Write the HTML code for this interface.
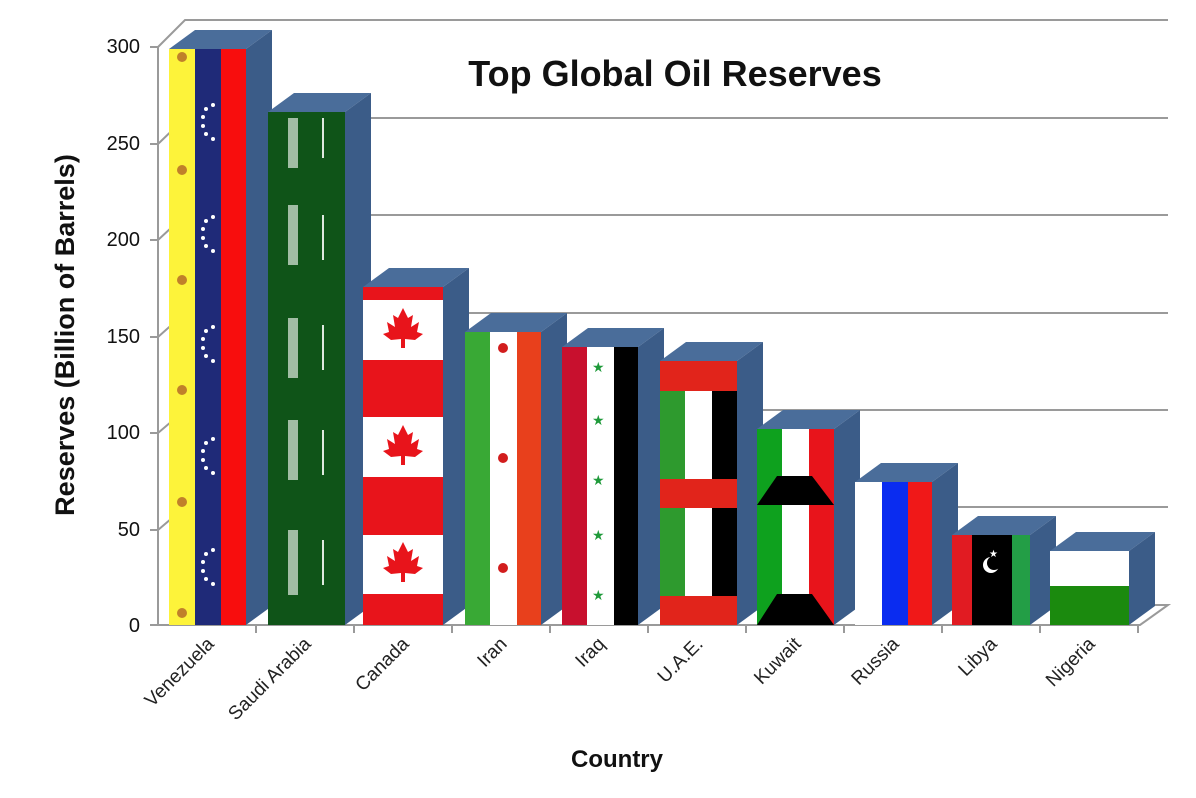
<!DOCTYPE html>
<html><head><style>body{margin:0;background:#fff}svg{display:block}text{font-family:"Liberation Sans",sans-serif}</style></head><body>
<svg width="1196" height="798" viewBox="0 0 1196 798" xmlns="http://www.w3.org/2000/svg">
<defs>
<g id="leaf"><path d="M0,-22 L5,-12 L10,-15 L8,-3 L16,-8 L14,2 L20,4 L12,10 L2,9 L2,18 L-2,18 L-2,9 L-12,10 L-20,4 L-14,2 L-16,-8 L-8,-3 L-10,-15 L-5,-12 Z" fill="#e8141b"/></g>
<g id="arc" fill="#fff"><circle cx="0" cy="-18" r="2"/><circle cx="-7" cy="-14" r="2"/><circle cx="-10" cy="-6" r="2"/><circle cx="-10" cy="3" r="2"/><circle cx="-7" cy="11" r="2"/><circle cx="0" cy="16" r="2"/></g>
</defs>
<!-- back wall gridlines -->
<g stroke="#9a9a9a" stroke-width="2" fill="none">
<path d="M158,47 L185,20 L1168,20"/>
<path d="M158,144 L185,118 L1168,118"/>
<path d="M158,240 L185,215 L1168,215"/>
<path d="M158,337 L185,313 L1168,313"/>
<path d="M158,433 L185,410 L1168,410"/>
<path d="M158,530 L185,507 L1168,507"/>
<path d="M158,47 L158,625"/>
<path d="M150,625 L1140,625 L1168,605 L185,605"/>
</g>
<g stroke="#9a9a9a" stroke-width="2">
<line x1="150" y1="47" x2="158" y2="47"/><line x1="150" y1="144" x2="158" y2="144"/><line x1="150" y1="240" x2="158" y2="240"/><line x1="150" y1="337" x2="158" y2="337"/><line x1="150" y1="433" x2="158" y2="433"/><line x1="150" y1="530" x2="158" y2="530"/>
<line x1="256" y1="625" x2="256" y2="633"/><line x1="354" y1="625" x2="354" y2="633"/><line x1="452" y1="625" x2="452" y2="633"/><line x1="550" y1="625" x2="550" y2="633"/><line x1="648" y1="625" x2="648" y2="633"/><line x1="746" y1="625" x2="746" y2="633"/><line x1="844" y1="625" x2="844" y2="633"/><line x1="942" y1="625" x2="942" y2="633"/><line x1="1040" y1="625" x2="1040" y2="633"/><line x1="1138" y1="625" x2="1138" y2="633"/>
</g>
<!-- bar 3D sides/tops -->
<g>
<path d="M169,49 L195,30 L272,30 L246,49Z" fill="#4a6d9a"/><path d="M246,49 L272,30 L272,606 L246,625Z" fill="#3b5c88"/>
<path d="M268,112 L294,93 L371,93 L345,112Z" fill="#4a6d9a"/><path d="M345,112 L371,93 L371,606 L345,625Z" fill="#3b5c88"/>
<path d="M363,287 L389,268 L469,268 L443,287Z" fill="#4a6d9a"/><path d="M443,287 L469,268 L469,606 L443,625Z" fill="#3b5c88"/>
<path d="M465,332 L491,313 L567,313 L541,332Z" fill="#4a6d9a"/><path d="M541,332 L567,313 L567,606 L541,625Z" fill="#3b5c88"/>
<path d="M562,347 L588,328 L664,328 L638,347Z" fill="#4a6d9a"/><path d="M638,347 L664,328 L664,606 L638,625Z" fill="#3b5c88"/>
<path d="M660,361 L686,342 L763,342 L737,361Z" fill="#4a6d9a"/><path d="M737,361 L763,342 L763,606 L737,625Z" fill="#3b5c88"/>
<path d="M757,429 L783,410 L860,410 L834,429Z" fill="#4a6d9a"/><path d="M834,429 L860,410 L860,606 L834,625Z" fill="#3b5c88"/>
<path d="M855,482 L881,463 L958,463 L932,482Z" fill="#4a6d9a"/><path d="M932,482 L958,463 L958,606 L932,625Z" fill="#3b5c88"/>
<path d="M952,535 L978,516 L1056,516 L1030,535Z" fill="#4a6d9a"/><path d="M1030,535 L1056,516 L1056,606 L1030,625Z" fill="#3b5c88"/>
<path d="M1050,551 L1076,532 L1155,532 L1129,551Z" fill="#4a6d9a"/><path d="M1129,551 L1155,532 L1155,606 L1129,625Z" fill="#3b5c88"/>
</g>
<!-- Venezuela -->
<rect x="169" y="49" width="26" height="576" fill="#fdf33a"/><rect x="195" y="49" width="26" height="576" fill="#1f2a78"/><rect x="221" y="49" width="25" height="576" fill="#f80d0d"/>
<g fill="#c0802a"><circle cx="182" cy="57" r="5"/><circle cx="182" cy="170" r="5"/><circle cx="182" cy="280" r="5"/><circle cx="182" cy="390" r="5"/><circle cx="182" cy="502" r="5"/><circle cx="182" cy="613" r="5"/></g>
<use href="#arc" x="213" y="123"/><use href="#arc" x="213" y="235"/><use href="#arc" x="213" y="345"/><use href="#arc" x="213" y="457"/><use href="#arc" x="213" y="568"/>
<!-- Saudi -->
<rect x="268" y="112" width="77" height="513" fill="#0f5418"/>
<g fill="#dfe9df"><rect x="288" y="118" width="10" height="50" opacity=".7"/><rect x="288" y="205" width="10" height="60" opacity=".7"/><rect x="288" y="318" width="10" height="60" opacity=".7"/><rect x="288" y="420" width="10" height="60" opacity=".7"/><rect x="288" y="530" width="10" height="65" opacity=".7"/>
<rect x="322" y="118" width="2" height="40"/><rect x="322" y="215" width="2" height="45"/><rect x="322" y="325" width="2" height="45"/><rect x="322" y="430" width="2" height="45"/><rect x="322" y="540" width="2" height="45"/></g>
<!-- Canada -->
<rect x="363" y="287" width="80" height="338" fill="#e8141b"/>
<rect x="363" y="300" width="80" height="60" fill="#fff"/><rect x="363" y="417" width="80" height="60" fill="#fff"/><rect x="363" y="535" width="80" height="59" fill="#fff"/>
<use href="#leaf" x="403" y="330"/><use href="#leaf" x="403" y="447"/><use href="#leaf" x="403" y="564"/>
<!-- Iran -->
<rect x="465" y="332" width="25" height="293" fill="#39a935"/><rect x="490" y="332" width="27" height="293" fill="#fff"/><rect x="517" y="332" width="24" height="293" fill="#e8401c"/>
<g fill="#d21d1d"><circle cx="503" cy="348" r="5"/><circle cx="503" cy="458" r="5"/><circle cx="503" cy="568" r="5"/></g>
<!-- Iraq -->
<rect x="562" y="347" width="25" height="278" fill="#c8102e"/><rect x="587" y="347" width="27" height="278" fill="#fff"/><rect x="614" y="347" width="24" height="278" fill="#000"/>
<g fill="#1f9a3a" font-size="14"><text x="592" y="372">★</text><text x="592" y="425">★</text><text x="592" y="485">★</text><text x="592" y="540">★</text><text x="592" y="600">★</text></g>
<!-- UAE -->
<rect x="660" y="361" width="77" height="264" fill="#e1241b"/>
<rect x="660" y="391" width="25" height="88" fill="#2e9a2e"/><rect x="685" y="391" width="27" height="88" fill="#fff"/><rect x="712" y="391" width="25" height="88" fill="#000"/>
<rect x="660" y="508" width="25" height="88" fill="#2e9a2e"/><rect x="685" y="508" width="27" height="88" fill="#fff"/><rect x="712" y="508" width="25" height="88" fill="#000"/>
<!-- Kuwait -->
<rect x="757" y="429" width="25" height="196" fill="#0ea11e"/><rect x="782" y="429" width="27" height="196" fill="#fff"/><rect x="809" y="429" width="25" height="196" fill="#e8141b"/>
<rect x="757" y="505" width="25" height="88" fill="#0ea11e"/>
<path d="M757,505 L777,476 L812,476 L834,505Z" fill="#000"/><path d="M757,625 L777,594 L812,594 L834,625Z" fill="#000"/>
<!-- Russia -->
<rect x="855" y="482" width="27" height="143" fill="#fff"/><rect x="882" y="482" width="26" height="143" fill="#0a2cf0"/><rect x="908" y="482" width="24" height="143" fill="#f01818"/>
<!-- Libya -->
<rect x="952" y="535" width="20" height="90" fill="#e11b22"/><rect x="972" y="535" width="40" height="90" fill="#000"/><rect x="1012" y="535" width="18" height="90" fill="#239e46"/>
<circle cx="991" cy="565" r="8" fill="#fff"/><circle cx="994" cy="563" r="7" fill="#000"/><text x="989" y="557" font-size="10" fill="#fff">★</text>
<!-- Nigeria -->
<rect x="1050" y="551" width="79" height="35" fill="#fff"/><rect x="1050" y="586" width="79" height="39" fill="#1b8a0e"/>
<!-- text -->
<text x="675" y="86" font-size="36" font-weight="bold" text-anchor="middle" fill="#111">Top Global Oil Reserves</text>
<g font-size="20" fill="#111" text-anchor="end"><text x="140" y="53">300</text><text x="140" y="150">250</text><text x="140" y="246">200</text><text x="140" y="343">150</text><text x="140" y="439">100</text><text x="140" y="536">50</text><text x="140" y="632">0</text></g>
<text transform="translate(74,335) rotate(-90)" font-size="27" font-weight="bold" text-anchor="middle" fill="#111">Reserves (Billion of Barrels)</text>
<text x="617" y="767" font-size="24" font-weight="bold" text-anchor="middle" fill="#111">Country</text>
<g font-size="19" fill="#222" text-anchor="end">
<text transform="translate(215,645) rotate(-45)">Venezuela</text>
<text transform="translate(312,645) rotate(-45)">Saudi Arabia</text>
<text transform="translate(410,645) rotate(-45)">Canada</text>
<text transform="translate(508,645) rotate(-45)">Iran</text>
<text transform="translate(606,645) rotate(-45)">Iraq</text>
<text transform="translate(704,645) rotate(-45)">U.A.E.</text>
<text transform="translate(802,645) rotate(-45)">Kuwait</text>
<text transform="translate(900,645) rotate(-45)">Russia</text>
<text transform="translate(998,645) rotate(-45)">Libya</text>
<text transform="translate(1096,645) rotate(-45)">Nigeria</text>
</g>
</svg>
</body></html>
